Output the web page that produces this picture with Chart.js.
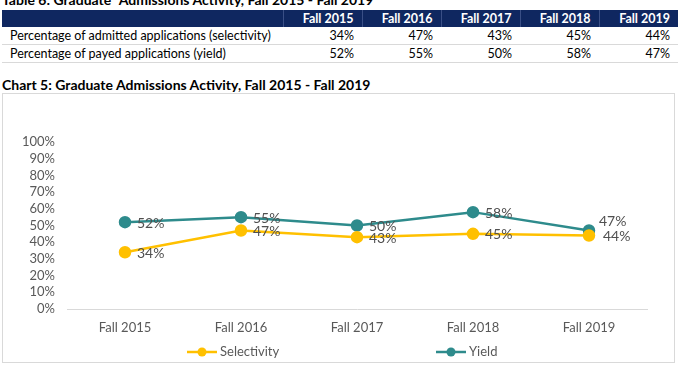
<!DOCTYPE html>
<html>
<head>
<meta charset="utf-8">
<script src="https://cdn.jsdelivr.net/npm/chart.js@4.4.0/dist/chart.umd.min.js"></script>
<style>
  html,body{margin:0;padding:0;background:#fff;width:679px;height:367px;overflow:hidden;font-family:Lato,"Open Sans",sans-serif;}
  #ttl1{position:absolute;left:2px;top:-9px;font-weight:bold;font-size:14px;color:#000;white-space:nowrap;}
  #tbl{position:absolute;left:2px;top:10px;border-collapse:collapse;table-layout:fixed;width:676px;font-size:12.5px;color:#000;white-space:nowrap;}
  #tbl th{background:#0f2760;color:#fff;font-weight:bold;height:17px;padding:0 8px 0 0;text-align:right;border-left:1px solid #3a4f86;line-height:17px;}
  #tbl th:first-child{border-left:none;}
  #tbl td{height:17px;line-height:17px;padding:0 8px;text-align:right;border-bottom:1px solid #d9d9d9;overflow:hidden;}
  #tbl td:first-child{text-align:left;}
  #ttl2{position:absolute;left:2px;top:76px;font-weight:bold;font-size:14px;color:#000;white-space:nowrap;}
  #box{position:absolute;left:2px;top:93px;width:671px;height:268px;border:1px solid #d9d9d9;}
  canvas{display:block;}
</style>
</head>
<body>
<div id="ttl1">Table 6: Graduate¹ Admissions Activity, Fall 2015 - Fall 2019</div>
<table id="tbl">
  <colgroup><col style="width:281px"><col style="width:79px"><col style="width:79px"><col style="width:79px"><col style="width:79px"><col style="width:79px"></colgroup>
  <thead><tr id="hdr"></tr></thead>
  <tbody id="tb"></tbody>
</table>
<div id="ttl2">Chart 5: Graduate Admissions Activity, Fall 2015 - Fall 2019</div>
<div id="box"><canvas id="c" width="671" height="268"></canvas></div>
<script>
const categories = ["Fall 2015", "Fall 2016", "Fall 2017", "Fall 2018", "Fall 2019"];
const rowLabels = ["Percentage of admitted applications (selectivity)", "Percentage of payed applications (yield)"];
const seriesNames = ["Selectivity", "Yield"];
const selectivity = [0.34, 0.47, 0.43, 0.45, 0.44];
const yieldVals = [0.52, 0.55, 0.50, 0.58, 0.47];
const yTicks = [0, 0.1, 0.2, 0.3, 0.4, 0.5, 0.6, 0.7, 0.8, 0.9, 1.0];

const pct = v => Math.round(v * 100) + "%";

// table
const hdr = document.getElementById("hdr");
hdr.innerHTML = "<th></th>" + categories.map(c => "<th>" + c + "</th>").join("");
const tb = document.getElementById("tb");
[selectivity, yieldVals].forEach((arr, i) => {
  const tr = document.createElement("tr");
  tr.innerHTML = "<td>" + rowLabels[i] + "</td>" + arr.map(v => "<td>" + pct(v) + "</td>").join("");
  tb.appendChild(tr);
});

const YELLOW = "#FFC000", TEAL = "#2E8B8C";
const FONT = "Lato, 'Open Sans', sans-serif";

const labelPlugin = {
  id: "valLabels",
  afterDatasetsDraw(chart) {
    const ctx = chart.ctx;
    ctx.save();
    ctx.font = "14px " + FONT;
    ctx.fillStyle = "#505050";
    ctx.textBaseline = "middle";
    ctx.textAlign = "left";
    chart.data.datasets.forEach((ds, di) => {
      const meta = chart.getDatasetMeta(di);
      meta.data.forEach((pt, i) => {
        let dx = 12, dy = 1;
        if (di === 1 && i === 4) { dx = 10; dy = -9; }
        if (di === 0 && i === 4) { dx = 14; dy = 1; }
        ctx.fillText(pct(ds.data[i]), pt.x + dx, pt.y + dy);
      });
    });
    ctx.restore();
  }
};

const legendPlugin = {
  id: "customLegend",
  afterDraw(chart) {
    const ctx = chart.ctx;
    const y = 258;
    const starts = [184, 433];
    ctx.save();
    ctx.font = "13px " + FONT;
    ctx.textBaseline = "middle";
    ctx.textAlign = "left";
    chart.data.datasets.forEach((ds, i) => {
      const x = starts[i];
      ctx.strokeStyle = ds.borderColor;
      ctx.lineWidth = 2.5;
      ctx.beginPath(); ctx.moveTo(x, y); ctx.lineTo(x + 30, y); ctx.stroke();
      ctx.fillStyle = ds.borderColor;
      ctx.beginPath(); ctx.arc(x + 15, y, 4.5, 0, Math.PI * 2); ctx.fill();
      ctx.fillStyle = "#595959";
      ctx.fillText(ds.label, x + 33, y);
    });
    ctx.restore();
  }
};

new Chart(document.getElementById("c"), {
  type: "line",
  data: {
    labels: categories,
    datasets: [
      { label: seriesNames[0], data: selectivity, borderColor: YELLOW, backgroundColor: YELLOW,
        borderWidth: 2.5, pointRadius: 5, pointBackgroundColor: YELLOW, pointBorderColor: YELLOW, tension: 0 },
      { label: seriesNames[1], data: yieldVals, borderColor: TEAL, backgroundColor: TEAL,
        borderWidth: 2.5, pointRadius: 5, pointBackgroundColor: TEAL, pointBorderColor: TEAL, tension: 0 }
    ]
  },
  options: {
    responsive: false,
    animation: false,
    layout: { padding: { left: 0, right: 27, top: 48, bottom: 0 } },
    plugins: { legend: { display: false }, tooltip: { enabled: false } },
    scales: {
      x: {
        offset: true,
        grid: { display: false, drawTicks: false },
        border: { display: true, color: "#d9d9d9", width: 1 },
        ticks: { color: "#595959", font: { family: FONT, size: 13 }, padding: 11 },
        afterFit: s => { s.height = 53; }
      },
      y: {
        min: 0, max: 1,
        grid: { display: false, drawTicks: false },
        border: { display: false },
        afterBuildTicks: s => { s.ticks = yTicks.map(v => ({ value: v })); },
        ticks: { color: "#595959", font: { family: FONT, size: 13 }, padding: 12, autoSkip: false, callback: v => pct(v) },
        afterFit: s => { s.width = 64; }
      }
    }
  },
  plugins: [labelPlugin, legendPlugin]
});
</script>
</body>
</html>
